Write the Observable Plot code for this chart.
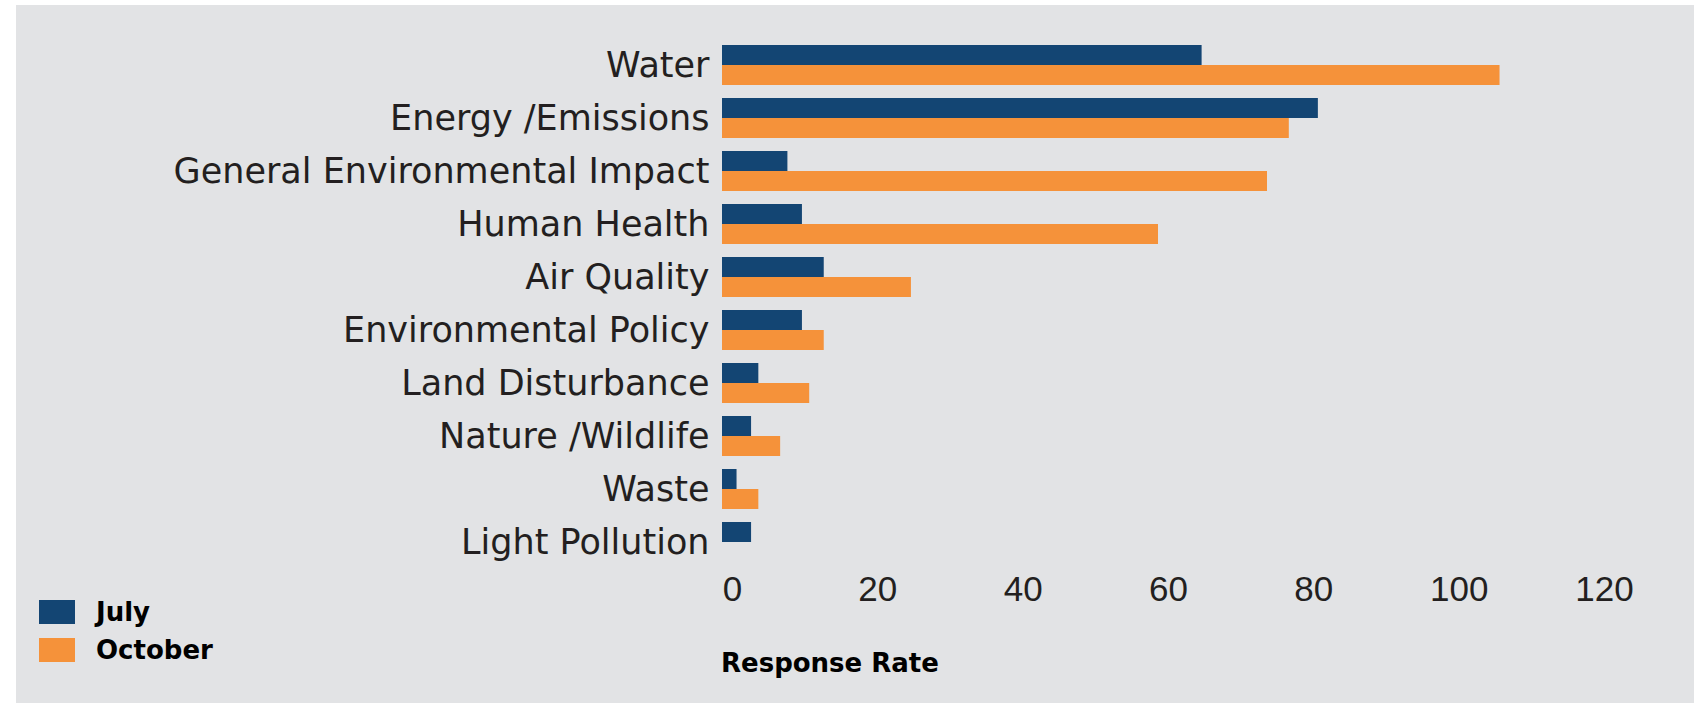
<!DOCTYPE html>
<html><head><meta charset="utf-8">
<script src="https://cdn.jsdelivr.net/npm/d3@7"></script>
<script src="https://cdn.jsdelivr.net/npm/@observablehq/plot@0.6"></script>
<style>
html,body{margin:0;padding:0;background:#fff;}
#bg{position:absolute;left:16px;top:5px;width:1678px;height:698px;background:#e2e3e5;}
#chart{position:absolute;left:0;top:0;}
#legend{position:absolute;left:39px;top:593px;font:bold 26px "DejaVu Sans";color:#000;}
.item{display:flex;align-items:center;height:38px;}
.sw{width:36px;height:24px;margin-right:21px;}
#xtitle{position:absolute;left:721px;top:650px;font:bold 26px "DejaVu Sans";line-height:26px;color:#000;}
</style></head><body>
<div id="bg"></div><div id="chart"></div><div id="legend"></div><div id="xtitle"></div>
<script>
const categories = ["Water","Energy /Emissions","General Environmental Impact","Human Health","Air Quality","Environmental Policy","Land Disturbance","Nature /Wildlife","Waste","Light Pollution"];
const july = [66, 82, 9, 11, 14, 11, 5, 4, 2, 4];
const october = [107, 78, 75, 60, 26, 14, 12, 8, 5, 0];
const series = ["July","October"];
const colors = ["#134573","#f5923a"];
const xTicks = [0,20,40,60,80,100,120];
const axisTitle = "Response Rate";

const data = categories.flatMap((c,i)=>[
  {category:c, series:"July", value:july[i]},
  {category:c, series:"October", value:october[i]}
]);

const plot = Plot.plot({
  width:1698, height:703,
  marginLeft:722, marginRight:104, marginTop:43, marginBottom:139.3,
  style:{background:"transparent", color:"#231f20", overflow:"visible"},
  x:{domain:[0,120]},
  y:{domain:series, padding:0, axis:null},
  fy:{domain:categories, paddingInner:0.237, paddingOuter:0},
  color:{domain:series, range:colors},
  marks:[
    Plot.barX(data,{x:"value", y:"series", fy:"category", fill:"series"}),
    Plot.axisX({ticks:xTicks, tickSize:0, tickPadding:14, dx:10, fontSize:35, fontFamily:"Liberation Sans, Arial, sans-serif", label:null}),
    Plot.axisFy({anchor:"left", tickSize:0, tickPadding:13, fontSize:35, fontFamily:"DejaVu Sans", label:null})
  ]
});
document.getElementById("chart").appendChild(plot);

const leg = document.getElementById("legend");
series.forEach((s,i)=>{
  const it = document.createElement("div"); it.className="item";
  const sw = document.createElement("span"); sw.className="sw"; sw.style.background=colors[i];
  const tx = document.createElement("span"); tx.textContent=s;
  it.appendChild(sw); it.appendChild(tx); leg.appendChild(it);
});
document.getElementById("xtitle").textContent = axisTitle;
</script>
</body></html>
